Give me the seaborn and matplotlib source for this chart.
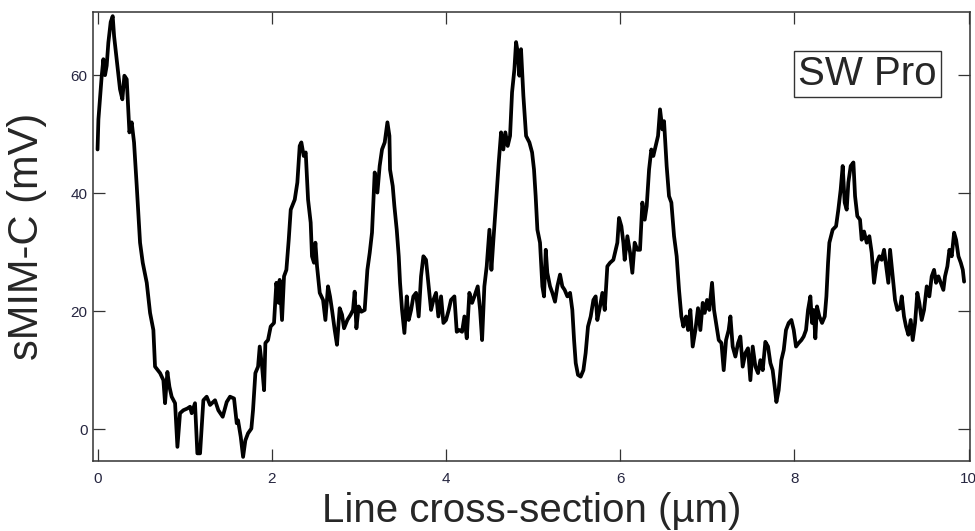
import matplotlib
matplotlib.use('Agg')
import matplotlib.pyplot as plt
import seaborn as sns

# line profile, position in um
position_um = [
    0.0, 0.01, 0.048, 0.067, 0.086, 0.105, 0.124, 0.151, 0.174, 0.19,
    0.22, 0.258, 0.285, 0.308, 0.335, 0.366, 0.392, 0.419, 0.45, 0.488,
    0.519, 0.565, 0.603, 0.641, 0.66, 0.718, 0.756, 0.775, 0.802, 0.825,
    0.851, 0.89, 0.917, 0.947, 0.985, 1.031, 1.062, 1.081, 1.119, 1.146,
    1.177, 1.215, 1.253, 1.292, 1.349, 1.387, 1.437, 1.483, 1.521, 1.567,
    1.598,
    1.613, 1.644, 1.671, 1.697, 1.728, 1.766, 1.785, 1.812, 1.843, 1.862,
    1.889, 1.912, 1.927, 1.957, 1.988, 2.026, 2.053, 2.08, 2.091, 2.118,
    2.141, 2.168, 2.195, 2.218, 2.264, 2.294, 2.321, 2.34, 2.367, 2.39,
    2.417, 2.447, 2.462, 2.485, 2.501, 2.52, 2.551, 2.589, 2.616, 2.646,
    2.669, 2.692, 2.723, 2.749, 2.78, 2.807, 2.83, 2.868, 2.906, 2.933,
    2.952, 2.972, 2.998, 3.029, 3.067, 3.098, 3.125, 3.151, 3.182, 3.213,
    3.239, 3.266, 3.297, 3.328,
    3.351, 3.358, 3.389, 3.408, 3.435, 3.458, 3.473, 3.496, 3.523, 3.55,
    3.573, 3.6, 3.626, 3.657, 3.687, 3.714, 3.741, 3.771, 3.798, 3.829,
    3.856, 3.886, 3.913, 3.944, 3.971, 4.001, 4.032, 4.058, 4.097, 4.124,
    4.154, 4.185, 4.212, 4.239, 4.269, 4.3, 4.327, 4.365, 4.392, 4.415,
    4.441, 4.468, 4.499, 4.522, 4.545, 4.575, 4.606, 4.633, 4.659, 4.682,
    4.709, 4.736, 4.759, 4.786, 4.805, 4.824, 4.843, 4.862, 4.889, 4.92,
    4.958, 4.989,
    5.011, 5.03, 5.05, 5.08, 5.107, 5.126, 5.146, 5.164, 5.195, 5.222,
    5.252, 5.279, 5.31, 5.336, 5.363, 5.394, 5.425, 5.451, 5.471, 5.49,
    5.516, 5.547, 5.578, 5.604, 5.631, 5.662, 5.693, 5.719, 5.738, 5.769,
    5.796, 5.823, 5.853, 5.884, 5.922, 5.949, 5.968, 5.987, 6.014, 6.037,
    6.052, 6.083, 6.114, 6.14, 6.167, 6.198, 6.228, 6.255, 6.282, 6.305,
    6.332, 6.358, 6.381, 6.408, 6.435, 6.458, 6.485, 6.504, 6.534, 6.561,
    6.588, 6.619, 6.649, 6.676, 6.703, 6.726,
    6.73, 6.757, 6.78, 6.806, 6.833, 6.864, 6.894, 6.921, 6.948, 6.971,
    6.998, 7.024, 7.055, 7.078, 7.101, 7.132, 7.163, 7.189, 7.216, 7.246,
    7.266, 7.292, 7.323, 7.354, 7.38, 7.407, 7.438, 7.468, 7.495, 7.522,
    7.553, 7.583, 7.61, 7.637, 7.667, 7.698, 7.725, 7.751, 7.774, 7.794,
    7.82, 7.851, 7.878, 7.904, 7.935, 7.966, 7.993, 8.019, 8.05, 8.081,
    8.107, 8.134, 8.157, 8.184, 8.203, 8.222, 8.241, 8.26, 8.287, 8.318,
    8.349, 8.368, 8.387, 8.402,
    8.44, 8.479, 8.505, 8.532, 8.555, 8.578, 8.601, 8.62, 8.647, 8.678,
    8.697, 8.723, 8.754, 8.773, 8.8, 8.831, 8.861, 8.888, 8.915, 8.946,
    8.976, 9.003, 9.03, 9.06, 9.079, 9.099, 9.129, 9.156, 9.183, 9.213,
    9.233, 9.259, 9.282, 9.309, 9.336, 9.359, 9.386, 9.412, 9.435, 9.462,
    9.489, 9.52, 9.55, 9.577, 9.604, 9.627, 9.654, 9.681, 9.711, 9.73,
    9.757, 9.78, 9.807, 9.834, 9.857, 9.884, 9.911, 9.934, 9.949,
]

# sMIM-C signal in mV
smim_mv = [
    47.4, 52.5, 59.9, 62.7, 60.0, 61.6, 65.5, 69.0, 70.0, 66.6,
    62.7, 57.6, 55.9, 59.9, 59.3, 50.3, 52.0, 48.6, 41.2, 31.6,
    28.2, 24.8, 19.7, 16.8, 10.6, 9.5, 8.3, 4.4, 9.7, 7.2,
    5.5, 4.4, -3.0, 2.7, 3.2, 3.5, 3.8, 2.7, 4.4, -4.1,
    -4.1, 4.9, 5.5, 4.1, 4.9, 3.2, 2.1, 4.6, 5.5, 5.2,
    1.0,
    1.5, -1.3, -4.7, -1.9, -0.7, 0.1, 3.2, 9.5, 10.6, 14.0,
    10.6, 6.6, 14.6, 15.1, 17.4, 18.0, 24.8, 21.4, 25.3, 18.5,
    25.9, 27.0, 32.1, 37.2, 38.9, 41.8, 48.0, 48.6, 46.3, 46.9,
    38.9, 35.0, 29.3, 28.2, 31.6, 27.6, 23.1, 21.9, 18.5, 24.2,
    22.5, 20.2, 16.8, 14.3, 20.5, 19.4, 17.1, 18.5, 19.4, 20.2,
    23.3, 17.1, 20.8, 19.9, 20.2, 27.0, 29.9, 33.3, 43.5, 40.1,
    44.6, 47.4, 48.6, 52.0,
    49.7, 44.0, 41.2, 37.8, 33.8, 29.3, 24.8, 20.2, 16.3, 22.5,
    18.5, 20.2, 22.5, 23.1, 19.1, 25.9, 29.3, 28.7, 24.8, 20.2,
    21.9, 23.1, 19.1, 22.5, 18.0, 18.5, 20.2, 21.9, 22.5, 16.5,
    16.8, 16.5, 19.1, 15.4, 23.1, 21.4, 22.5, 24.2, 20.2, 15.1,
    24.2, 27.6, 33.8, 27.0, 32.1, 38.4, 45.2, 50.3, 47.4, 50.3,
    48.0, 49.7, 57.1, 61.0, 65.6, 63.9, 59.9, 64.4, 56.5, 49.7,
    48.6, 46.9,
    44.0, 39.5, 33.8, 31.6, 24.2, 22.5, 30.4, 26.5, 24.2, 23.1,
    21.6, 24.2, 26.2, 24.2, 23.6, 22.5, 23.1, 20.2, 15.1, 11.2,
    9.2, 8.9, 10.0, 12.9, 17.4, 19.1, 21.9, 22.5, 18.5, 20.8,
    23.1, 20.2, 27.6, 28.2, 28.7, 30.4, 31.6, 35.8, 34.4, 31.6,
    28.7, 32.7, 29.9, 26.5, 31.6, 30.4, 30.4, 38.4, 35.5, 37.8,
    44.0, 47.4, 46.3, 48.0, 49.7, 54.2, 50.8, 52.2, 44.6, 39.5,
    38.4, 32.7, 29.3, 23.6, 19.1, 17.4,
    18.0, 19.1, 16.8, 20.2, 14.0, 16.8, 20.5, 16.8, 21.4, 19.7,
    21.9, 20.2, 24.8, 20.2, 18.0, 15.1, 14.6, 10.0, 15.1, 16.8,
    19.1, 14.0, 12.3, 14.6, 15.7, 10.6, 12.9, 13.7, 8.3, 14.0,
    10.6, 9.5, 11.7, 10.0, 14.8, 14.0, 11.2, 10.0, 7.2, 4.6,
    6.6, 11.7, 13.4, 16.8, 18.0, 18.5, 16.8, 14.0, 14.6, 15.1,
    15.7, 16.8, 20.2, 22.5, 18.0, 20.2, 15.4, 20.8, 19.1, 18.0,
    19.1, 22.5, 28.2, 31.6,
    33.8, 34.4, 37.2, 40.6, 44.6, 38.4, 37.2, 41.8, 44.6, 45.2,
    39.5, 36.1, 35.5, 32.1, 33.5, 31.6, 32.7, 29.9, 24.8, 28.2,
    29.3, 28.7, 30.4, 27.0, 24.8, 30.4, 25.9, 21.9, 20.2, 20.5,
    22.5, 19.1, 17.4, 16.0, 18.5, 15.1, 18.0, 23.1, 21.4, 18.5,
    20.2, 24.2, 22.5, 25.9, 27.0, 24.8, 25.9, 24.8, 23.6, 25.9,
    27.6, 30.4, 29.3, 33.3, 32.1, 29.3, 28.2, 27.0, 25.0,
]

x_ticks = [0, 2, 4, 6, 8, 10]
y_ticks = [0, 20, 40, 60]
x_label = 'Line cross-section (µm)'
y_label = 'sMIM-C (mV)'
tag_text = 'SW Pro'

sns.set_style('ticks')
plt.rcParams['font.family'] = ['Liberation Sans', 'DejaVu Sans']

fig = plt.figure(figsize=(9.75, 5.31), dpi=100)
ax = fig.add_axes([0.0954, 0.1318, 0.8995, 0.8456])

sns.lineplot(x=position_um, y=smim_mv, color='black', linewidth=2.7,
             estimator=None, sort=False, ax=ax)

ax.set_xlim(-0.052, 10.017)
ax.set_ylim(-5.4, 70.7)
ax.set_xticks(x_ticks)
ax.set_yticks(y_ticks)

# inward ticks on all four sides, labels only bottom/left
ax.tick_params(direction='in', length=8.6, width=0.9, top=True, right=True,
               labelsize=11, labelcolor='#262640', color='#333333')
ax.tick_params(axis='x', pad=8)
ax.tick_params(axis='y', pad=4)
for spine in ax.spines.values():
    spine.set_color('#333333')
    spine.set_linewidth(1.1)

ax.set_xlabel(x_label, fontsize=29, labelpad=4)
ax.set_ylabel(y_label, fontsize=30, labelpad=17)

ax.text(0.883, 0.861, tag_text, transform=ax.transAxes, ha='center', va='center',
        fontsize=29, bbox=dict(boxstyle='square,pad=0.1', fc='white', ec='#333333', lw=1))

fig.savefig('out.png', dpi=100)
